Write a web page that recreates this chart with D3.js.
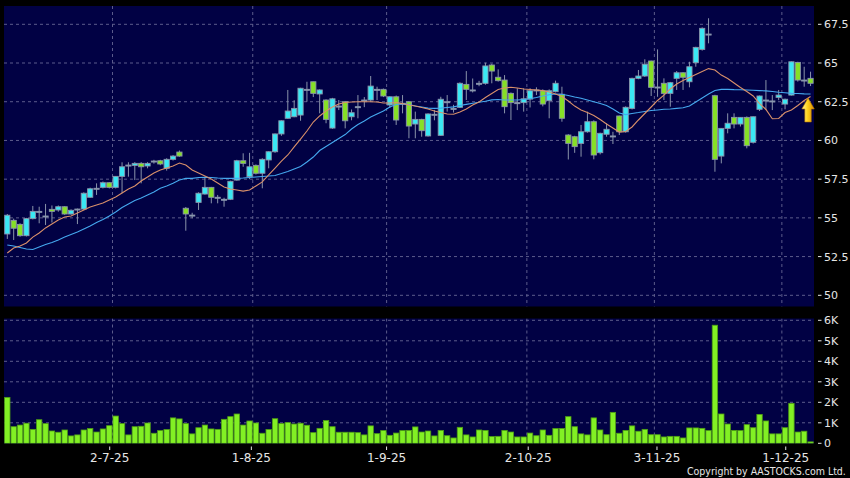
<!DOCTYPE html>
<html><head><meta charset="utf-8">
<script src="https://cdn.jsdelivr.net/npm/d3@7"></script>
<style>html,body{margin:0;padding:0;background:#000;} svg{display:block}</style>
</head><body><svg id="c" width="850" height="478"></svg>
<script>
// ---------- DATA ----------
const startDate = "2025-06-09";
const endDate = "2025-12-08";
const holidays = ["2025-07-01", "2025-10-01", "2025-10-07", "2025-10-29"];

const open = [53.96,54.84,54.58,53.85,54.95,55.42,55.12,55.55,55.51,55.72,
55.25,55.57,55.57,56.33,56.91,56.97,57.27,56.97,57.68,58.41,
58.39,58.52,58.35,58.67,58.69,58.20,58.78,59.25,55.62,55.18,
56.00,56.54,56.97,56.33,56.20,56.20,57.44,58.69,57.66,58.39,
57.88,58.74,59.27,60.42,61.43,61.53,61.64,63.30,63.79,63.00,
62.61,60.80,62.22,62.50,61.53,62.18,62.61,62.61,63.30,63.30,
62.29,62.82,62.40,62.50,61.06,61.36,60.29,61.69,60.33,62.50,
62.07,62.14,63.62,63.26,63.69,63.69,64.87,64.08,63.90,63.04,
62.44,62.44,62.67,63.26,63.21,62.57,63.15,62.98,60.35,60.24,
59.81,60.56,61.21,59.21,60.40,60.29,61.58,60.56,62.07,64.01,
64.16,65.13,63.45,63.69,63.04,64.01,64.37,63.79,65.02,65.88,
66.87,62.89,58.99,60.78,61.49,61.06,61.49,59.88,62.01,62.61,
62.55,62.78,62.35,62.93,65.04,63.90,64.01];

const close = [55.17,54.33,53.85,54.95,55.42,55.42,55.12,55.42,55.72,55.25,
55.49,55.57,56.59,56.88,56.91,57.27,56.97,57.68,58.30,58.41,
58.52,58.30,58.52,58.67,58.48,58.78,58.99,58.99,55.25,55.18,
56.59,56.97,56.33,56.33,56.20,57.36,58.69,58.52,58.30,57.88,
58.78,59.27,60.42,61.27,61.90,62.07,63.37,63.30,63.04,63.26,
61.36,62.69,62.22,61.27,61.79,62.18,62.61,63.51,63.30,62.87,
62.82,61.32,62.40,60.93,61.36,60.63,61.71,61.69,62.66,62.50,
62.07,63.69,63.30,63.26,63.69,64.81,64.48,63.86,62.18,62.44,
62.44,62.69,63.21,63.26,62.35,63.21,63.69,61.43,59.81,59.60,
60.56,61.21,59.06,60.46,60.72,60.29,60.56,62.14,64.01,64.16,
64.92,63.43,63.45,63.04,63.73,64.37,64.08,64.76,66.01,67.24,
66.87,58.78,60.78,61.11,61.06,61.49,59.66,61.53,62.87,62.61,
62.55,62.93,62.66,65.08,63.90,63.90,63.69];

const high = [55.25,54.95,54.65,55.00,55.77,55.72,55.90,55.80,55.80,55.75,
55.55,55.60,56.65,56.95,57.23,57.35,57.30,57.70,58.59,58.59,
58.60,58.60,58.60,58.75,58.75,58.85,59.05,59.35,55.70,55.33,
56.65,57.66,57.00,56.48,56.30,57.40,58.75,59.17,59.20,58.45,
58.85,59.30,60.45,61.30,63.26,62.60,63.40,63.79,63.80,63.30,
62.65,62.75,62.61,62.55,62.00,62.93,62.80,64.16,63.47,63.35,
62.85,62.90,62.93,62.55,61.86,61.40,61.75,61.97,62.82,62.93,
62.30,63.75,64.48,64.00,63.85,65.02,64.95,64.59,64.22,63.10,
63.37,63.37,63.37,63.43,63.30,63.30,63.86,63.47,60.40,60.30,
61.00,61.86,61.30,60.50,61.11,60.56,61.60,62.20,64.05,64.55,
65.24,65.15,65.88,64.01,63.78,64.48,64.40,65.08,66.05,67.30,
67.89,62.95,60.80,61.75,61.75,61.50,61.55,61.55,62.90,63.90,
62.93,63.26,62.70,65.10,65.08,64.76,64.44];

const low = [53.64,53.57,53.78,53.80,54.90,54.65,54.54,54.70,55.40,55.20,
55.20,54.60,55.50,56.30,56.48,56.90,56.90,56.90,56.59,57.66,
57.44,57.23,58.20,58.50,58.40,58.05,58.70,58.95,54.17,54.97,
55.51,56.50,55.94,55.94,55.72,56.15,57.40,58.30,57.50,57.80,
56.91,58.20,59.20,60.30,61.40,61.50,61.27,62.50,62.80,61.75,
61.11,60.75,61.96,60.78,61.30,61.43,62.15,62.50,62.61,62.80,
62.10,61.00,61.75,60.14,60.14,60.24,60.25,61.30,60.30,61.86,
61.80,62.10,62.61,63.10,63.50,63.60,63.69,63.80,61.75,61.32,
61.96,61.86,62.13,62.93,62.20,61.43,63.10,61.21,58.77,59.20,
58.95,60.50,58.78,59.10,60.24,59.77,60.35,60.50,62.00,63.95,
64.10,62.87,62.82,62.61,62.18,63.26,63.26,63.43,64.76,65.80,
66.27,57.98,58.52,60.46,60.78,60.90,59.49,59.80,61.90,61.96,
61.96,62.60,62.01,62.90,63.80,63.47,63.51];

// volume in thousands
const volumeK = [2.24,0.81,0.89,0.98,0.68,1.15,0.96,0.60,0.54,0.65,
0.36,0.41,0.65,0.72,0.55,0.70,0.86,1.33,0.96,0.41,
0.81,0.83,0.99,0.49,0.62,0.67,1.24,1.19,0.96,0.46,
0.76,0.89,0.70,0.68,1.17,1.30,1.43,0.89,1.09,0.99,
0.49,0.67,1.20,0.96,1.01,0.94,0.98,0.88,0.52,0.73,
1.11,0.81,0.54,0.54,0.54,0.52,0.41,0.85,0.47,0.62,
0.39,0.50,0.62,0.63,0.80,0.55,0.60,0.36,0.63,0.37,
0.26,0.78,0.41,0.31,0.65,0.63,0.33,0.34,0.63,0.55,
0.31,0.31,0.50,0.37,0.65,0.39,0.72,0.72,1.30,0.81,
0.46,0.41,1.24,0.65,0.42,1.51,0.49,0.63,0.85,0.59,
0.68,0.42,0.42,0.31,0.34,0.34,0.26,0.75,0.75,0.73,
0.62,5.76,1.43,0.94,0.63,0.62,0.91,0.76,1.41,1.09,
0.46,0.46,0.76,1.95,0.55,0.59,0.07];

const ma10 = [52.73,53.05,53.18,53.38,53.76,54.02,54.35,54.60,54.86,55.06,
55.12,55.31,55.51,55.70,55.83,55.96,56.15,56.35,56.61,56.86,
57.06,57.38,57.64,57.90,58.09,58.22,58.35,58.54,58.41,58.09,
57.90,57.70,57.51,57.25,56.99,56.86,56.80,56.73,56.80,57.06,
57.32,57.77,58.22,58.67,59.06,59.58,60.09,60.61,61.19,61.58,
61.90,62.16,62.35,62.45,62.48,62.50,62.50,62.50,62.48,62.42,
62.42,62.45,62.38,62.29,62.22,62.13,62.03,61.90,61.80,61.71,
61.69,61.84,62.03,62.29,62.48,62.77,63.03,63.29,63.39,63.43,
63.39,63.32,63.29,63.26,63.22,63.13,63.00,62.84,62.55,62.22,
61.97,61.80,61.61,61.35,61.06,60.80,60.54,60.58,60.87,61.32,
61.74,62.16,62.58,62.93,63.32,63.64,63.87,64.06,64.26,64.45,
64.64,64.55,64.22,64.00,63.71,63.42,63.16,62.87,62.38,62.00,
61.40,61.42,61.80,61.97,62.26,62.58,62.84];

const ma20 = [53.25,53.18,53.09,52.99,52.96,53.12,53.28,53.41,53.57,53.76,
53.93,54.09,54.28,54.47,54.70,54.89,55.12,55.38,55.67,55.90,
56.12,56.28,56.48,56.67,56.91,57.06,57.23,57.45,57.55,57.55,
57.61,57.62,57.61,57.57,57.55,57.55,57.55,57.57,57.61,57.64,
57.67,57.70,57.74,57.86,57.99,58.16,58.32,58.61,58.93,59.35,
59.61,59.87,60.12,60.38,60.74,61.03,61.25,61.51,61.71,61.90,
62.16,62.32,62.38,62.32,62.22,62.16,62.09,62.07,62.09,62.13,
62.17,62.26,62.33,62.40,62.47,62.53,62.62,62.64,62.61,62.61,
62.61,62.64,62.69,62.77,62.87,62.95,63.00,62.98,62.90,62.80,
62.72,62.61,62.50,62.38,62.26,62.03,61.77,61.67,61.74,61.80,
61.87,61.93,61.97,62.01,62.03,62.07,62.11,62.22,62.48,62.74,
63.00,63.22,63.30,63.30,63.28,63.27,63.26,63.24,63.22,63.20,
63.16,63.11,63.08,63.04,63.03,63.01,63.00];

const priceTicks = [50, 52.5, 55, 57.5, 60, 62.5, 65, 67.5];
const volumeTicks = [0, 1, 2, 3, 4, 5, 6];
const dateTickDates = ["2025-07-02", "2025-08-01", "2025-09-01", "2025-10-02", "2025-11-03", "2025-12-01"];
const dateTickLabels = ["2-7-25", "1-8-25", "1-9-25", "2-10-25", "3-11-25", "1-12-25"];
const copyrightText = "Copyright by AASTOCKS.com Ltd.";

// ---------- CATEGORIES (trading days) ----------
function tradingDays(s, e, hol) {
  const out = [];
  const d = new Date(s + "T00:00:00Z"), end = new Date(e + "T00:00:00Z");
  while (d <= end) {
    const iso = d.toISOString().slice(0, 10);
    const wd = d.getUTCDay();
    if (wd !== 0 && wd !== 6 && !hol.includes(iso)) out.push(iso);
    d.setUTCDate(d.getUTCDate() + 1);
  }
  return out;
}
const dates = tradingDays(startDate, endDate, holidays);
const rows = dates.map((d, i) => ({d, i, o: open[i], h: high[i], l: low[i], c: close[i], v: volumeK[i], m10: ma10[i], m20: ma20[i]}));

// ---------- LAYOUT ----------
const W = 850, H = 478;
const P = {x0: 4, x1: 814, top: 6, bottom: 306.5};
const V = {top: 318.5, bottom: 443.5};
const NAVY = "#010144";
const GRID = "#5d5d8c";
const TEXT = "#e6e6e6";
const FONT = "DejaVu Sans, Verdana, sans-serif";

const svg = d3.select("#c");
svg.append("rect").attr("width", W).attr("height", H).attr("fill", "#000");

const x = d3.scalePoint().domain(dates).range([7.3, 810.55]);
const step = x.step();
const xTick = d3.scaleLinear().domain([0, dates.length - 2]).range([6.7, 811.5]);
const y = d3.scaleLinear().domain([50, 67.5]).range([295.3, 24.3]);
const yv = d3.scaleLinear().domain([0, 6]).range([443.3, 320.3]);

// panels
svg.append("rect").attr("x", P.x0).attr("y", P.top).attr("width", P.x1 - P.x0).attr("height", P.bottom - P.top).attr("fill", NAVY);
svg.append("rect").attr("x", P.x0).attr("y", V.top).attr("width", P.x1 - P.x0).attr("height", V.bottom - V.top).attr("fill", NAVY);

const defs = svg.append("defs");
defs.append("clipPath").attr("id", "clipP").append("rect").attr("x", P.x0).attr("y", P.top).attr("width", P.x1 - P.x0).attr("height", P.bottom - P.top);
defs.append("clipPath").attr("id", "clipV").append("rect").attr("x", P.x0).attr("y", V.top).attr("width", P.x1 - P.x0).attr("height", V.bottom - V.top);
const grad = defs.append("linearGradient").attr("id", "arrowGrad").attr("x1", "0").attr("x2", "1").attr("y1", "0").attr("y2", "0");
grad.append("stop").attr("offset", "0").attr("stop-color", "#fff6a0");
grad.append("stop").attr("offset", "0.45").attr("stop-color", "#ffd21e");
grad.append("stop").attr("offset", "1").attr("stop-color", "#d88a00");

// gridlines
const gP = svg.append("g").attr("clip-path", "url(#clipP)");
const gV = svg.append("g").attr("clip-path", "url(#clipV)");
gP.selectAll("line.h").data(priceTicks).join("line")
  .attr("x1", P.x0).attr("x2", P.x1).attr("y1", d => y(d)).attr("y2", d => y(d))
  .attr("stroke", GRID).attr("stroke-dasharray", "3,3");
gV.selectAll("line.h").data(volumeTicks.filter(v => v > 0)).join("line")
  .attr("x1", P.x0).attr("x2", P.x1).attr("y1", d => yv(d)).attr("y2", d => yv(d))
  .attr("stroke", GRID).attr("stroke-dasharray", "3,3");
[gP, gV].forEach((g, k) => {
  g.selectAll("line.v").data(dateTickDates).join("line")
    .attr("x1", d => x(d) + step / 2).attr("x2", d => x(d) + step / 2)
    .attr("y1", k === 0 ? P.top : V.top).attr("y2", k === 0 ? P.bottom : V.bottom)
    .attr("stroke", GRID).attr("stroke-dasharray", "3,3");
});

// candles
const UP = "#3ae8f4", DOWN = "#86e026", EDGE = "#8a94aa";
const cg = gP.append("g");
cg.selectAll("line.wick").data(rows).join("line")
  .attr("x1", d => x(d.d)).attr("x2", d => x(d.d))
  .attr("y1", d => y(d.h)).attr("y2", d => y(d.l))
  .attr("stroke", EDGE).attr("stroke-width", 1);
cg.selectAll("rect.body").data(rows).join("rect")
  .attr("x", d => x(d.d) - 2.6).attr("width", 5.2)
  .attr("y", d => y(Math.max(d.o, d.c)))
  .attr("height", d => Math.max(1, Math.abs(y(d.o) - y(d.c))))
  .attr("fill", d => d.c > d.o ? UP : d.c < d.o ? DOWN : "#7fb8d8")
  .attr("stroke", EDGE).attr("stroke-width", 0.9);

// moving averages
const line10 = d3.line().x(d => x(d.d)).y(d => y(d.m10));
const line20 = d3.line().x(d => x(d.d)).y(d => y(d.m20));
gP.append("path").datum(rows).attr("d", line20).attr("fill", "none").attr("stroke", "#45a8ee").attr("stroke-width", 1.1);
gP.append("path").datum(rows).attr("d", line10).attr("fill", "none").attr("stroke", "#d9906a").attr("stroke-width", 1.1);

// arrow under last candle (at last MA10 value)
const last = rows[rows.length - 1];
const ax = x(last.d) - 2.5, ay = y(last.m10) + 1.5;
svg.append("path")
  .attr("d", `M${ax},${ay} L${ax + 6.2},${ay + 11} L${ax + 3.2},${ay + 11} L${ax + 3.2},${ay + 24} L${ax - 3.2},${ay + 24} L${ax - 3.2},${ay + 11} L${ax - 6.2},${ay + 11} Z`)
  .attr("fill", "url(#arrowGrad)").attr("stroke", "#b87800").attr("stroke-width", 0.6);

// volume bars
gV.selectAll("rect.vol").data(rows).join("rect")
  .attr("x", d => x(d.d) - 2.7).attr("width", 5.4)
  .attr("y", d => yv(d.v)).attr("height", d => yv(0) - yv(d.v))
  .attr("fill", "#82f024").attr("stroke", "#4f9e14").attr("stroke-width", 0.8);

// right axis (price)
const ax1 = svg.append("g");
ax1.selectAll("line").data(priceTicks).join("line")
  .attr("x1", 818).attr("x2", 821.5).attr("y1", d => y(d)).attr("y2", d => y(d))
  .attr("stroke", TEXT);
ax1.selectAll("text").data(priceTicks).join("text")
  .attr("x", 824).attr("y", d => y(d) + 4)
  .attr("fill", TEXT).attr("font-family", FONT).attr("font-size", 11)
  .text(d => String(d));

// right axis (volume)
const ax2 = svg.append("g");
ax2.selectAll("line").data(volumeTicks).join("line")
  .attr("x1", 818).attr("x2", 821.5).attr("y1", d => yv(d)).attr("y2", d => yv(d))
  .attr("stroke", TEXT);
ax2.selectAll("text").data(volumeTicks).join("text")
  .attr("x", 824).attr("y", d => yv(d) + 4)
  .attr("fill", TEXT).attr("font-family", FONT).attr("font-size", 11)
  .text(d => d === 0 ? "0" : d + "K");

// bottom date axis
const ax3 = svg.append("g");
dateTickDates.forEach((d, k) => {
  const tx = xTick(dates.indexOf(d));
  ax3.append("line").attr("x1", tx).attr("x2", tx).attr("y1", 446.5).attr("y2", 450)
    .attr("stroke", TEXT);
  ax3.append("text").attr("x", tx).attr("y", 461.5).attr("text-anchor", "middle")
    .attr("fill", TEXT).attr("font-family", FONT).attr("font-size", 12)
    .text(dateTickLabels[k]);
});

// copyright (horizontally condensed, like the reference's narrow font)
svg.append("text")
  .attr("transform", "translate(687,474.8) scale(0.9,1)")
  .attr("fill", TEXT).attr("font-family", FONT).attr("font-size", 10.5)
  .text(copyrightText);
</script></body></html>
